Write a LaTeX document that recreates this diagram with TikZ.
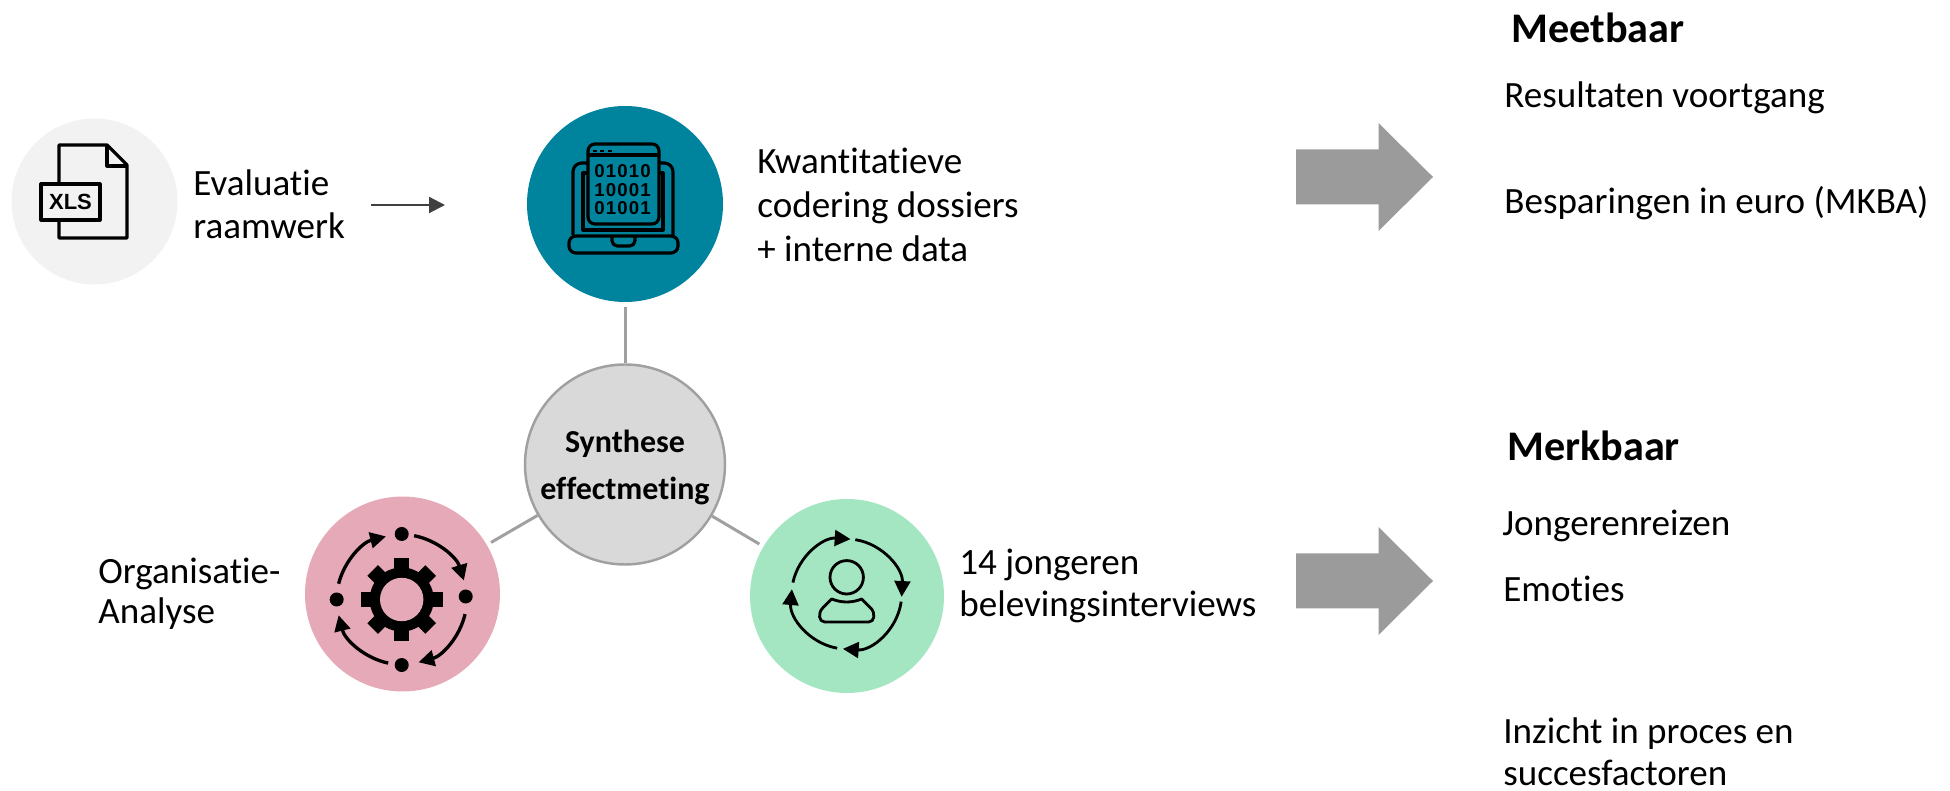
\documentclass[tikz,border=0pt]{standalone}
\usepackage{fontspec}
\usepackage{xcolor}
\setmainfont{Carlito}[Ligatures=NoCommon]
\newfontfamily\iconfont{Liberation Sans}
\newfontfamily\bitfont[LetterSpace=6]{Liberation Sans}
\usetikzlibrary{arrows.meta, positioning}

\definecolor{xlsgrey}{HTML}{F2F2F2}
\definecolor{codeteal}{HTML}{00839C}
\definecolor{orgpink}{HTML}{E6A9B7}
\definecolor{talkgreen}{HTML}{A5E6C2}
\definecolor{hubgrey}{HTML}{D9D9D9}
\definecolor{spokegrey}{HTML}{A0A0A0}
\definecolor{blockgrey}{HTML}{9B9B9B}
\definecolor{thinarrow}{HTML}{404040}

\tikzset{
  disc/.style={circle, inner sep=0pt, minimum size=#1},
  lbl/.style={inner sep=0pt, anchor=base west, align=left, font=\fontsize{21.1}{#1}\selectfont},
  lbl/.default=25,
  title/.style={inner sep=0pt, anchor=base west, font=\fontsize{24}{28}\selectfont\bfseries},
  spoke/.style={draw=spokegrey, line width=1.7pt, shorten >=2.6pt},
  block/.style={fill=blockgrey, draw=none},
  icon/.style={x=.02cm, y=.02cm, shift={(#1)}},
  ink/.style={draw=black, line width=1.8pt, line join=round},
  thinink/.style={draw=black, line width=1.6pt, line join=round},
  ringarrow/.style={draw=black, line width=#1, -{Triangle[length=9pt, width=9pt]}},
  bits/.style={inner sep=0pt, font=\fontsize{10.6}{12}\bitfont\bfseries}
}

\begin{document}
\begin{tikzpicture}[on grid]
  \useasboundingbox (0,0) rectangle (39,15.82);

  \node[disc=4cm, fill=hubgrey, draw=spokegrey, line width=1.4pt, align=center,
    font=\fontsize{18.2}{26.7}\selectfont\bfseries] (syn) at (12.5,6.53) {\rule{0pt}{16pt}Synthese\hspace{8pt}\\effectmeting};
  \node[disc=3.92cm, fill=codeteal, above=5.21cm of syn] (code) {};
  \node[disc=3.9cm, fill=orgpink, below left=2.59cm and 4.45cm of syn] (org) {};
  \node[disc=3.88cm, fill=talkgreen, below right=2.63cm and 4.44cm of syn] (talk) {};
  \node[disc=3.32cm, fill=xlsgrey, left=10.61cm of code, yshift=.05cm] (xls) {};

  \draw (syn) edge[spoke] (code);
  \draw (syn) edge[spoke] (org);
  \draw (syn) edge[spoke] (talk);

  \node[lbl=24.5, right=1.97cm of xls, yshift=-.75cm, anchor=base west] (evalabel) {Evaluatie\\raamwerk};
  \node[lbl=25.2, right=2.64cm of code, yshift=-1.16cm, anchor=base west] (codelabel) {Kwantitatieve\\codering dossiers\\+ interne data};
  \node[lbl=23.3, left=6.09cm of org, yshift=-.6cm, anchor=base west] (orglabel) {Organisatie-\\Analyse};
  \node[lbl=23.9, right=2.24cm of talk, yshift=-.42cm, anchor=base west] (talklabel) {14 jongeren\\belevingsinterviews};

  \coordinate (thinstart) at (7.42,11.72);
  \coordinate (thinend) at (8.9,11.72);
  \draw[thinarrow, line width=1.2pt, -{Triangle[length=9pt, width=9pt]}] (thinstart) -- (thinend);

  \foreach \y in {12.28,4.2}
    \fill[block] (25.92,\y+.55) -- (27.57,\y+.55) -- (27.57,\y+1.08) -- (28.66,\y) -- (27.57,\y-1.08) -- (27.57,\y-.55) -- (25.92,\y-.55) -- cycle;

  \node[title] (meet) at (30.22,14.97) {Meetbaar};
  \node[lbl, below=1.3cm of meet.base west, xshift=-.14cm, anchor=base west] (res) {Resultaten voortgang};
  \node[lbl, below=2.13cm of res.base west, anchor=base west] (bes) {Besparingen in euro (MKBA)};
  \node[title] (merk) at (30.14,6.61) {Merkbaar};
  \node[lbl, below=1.5cm of merk.base west, xshift=-.1cm, anchor=base west] (jong) {Jongerenreizen};
  \node[lbl, below=1.32cm of jong.base west, xshift=.02cm, anchor=base west] (emo) {Emoties};
  \node[lbl=24, below=3.68cm of emo.base west, anchor=base west] (inz) {Inzicht in proces en\\succesfactoren};

  \begin{scope}[icon=xls.center]
    \draw[ink] (-35.5,17.5) -- (-35.5,56.5) -- (12.5,56.5) -- (32.5,36.5) -- (32.5,-36.5) -- (-35.5,-36.5) -- (-35.5,-18.5);
    \draw[ink] (12.5,56.5) -- (12.5,35.5) -- (32.5,35.5);
    \draw[ink] (-53.5,17.5) rectangle (5.5,-18.5);
    \node[inner sep=0pt, font=\fontsize{12.5}{14}\iconfont\bfseries] (xlstext) at (-24,0) {XLS};
  \end{scope}

  \begin{scope}[icon=code.center]
    \draw[ink, rounded corners=4pt] (-37,-20) rectangle (34,60);
    \draw[ink] (-37,49) -- (34,49);
    \foreach \x in {-30,-23,-15} \draw[black, line width=1.4pt] (\x-2,53) -- (\x+2,53);
    \draw[ink, rounded corners=5pt] (-37,41) -- (-52,41) -- (-52,-31);
    \draw[ink, rounded corners=5pt] (34,41) -- (48,41) -- (48,-31);
    \draw[ink] (-37,31) -- (-42,31) -- (-42,-26) -- (38,-26) -- (38,31) -- (34,31);
    \draw[ink, rounded corners=4pt] (-56,-32) -- (53,-32) -- (53,-49) -- (-56,-49) -- cycle;
    \draw[ink, rounded corners=3pt] (-13,-32) -- (-13,-42) -- (10,-42) -- (10,-32);
    \node[bits] (row1) at (-2.5,33) {01010};
    \node[bits] (row2) at (-2.5,14) {10001};
    \node[bits] (row3) at (-2.5,-4) {01001};
  \end{scope}

  \begin{scope}[icon=org.center, shift={(-.8,-5.5)}]
    \foreach \a in {0,45,...,315} \fill[black, rotate=\a] (-7.5,25) rectangle (7.5,41);
    \fill[black] (0,0) circle[radius=32];
    \fill[orgpink] (0,0) circle[radius=21.7];
    \foreach \x/\y in {0/65.5,64/3,-65/0,0/-65.5} \fill[black] (\x,\y) circle[radius=7];
    \foreach \s/\e in {79/17,-13/-75,-102/-166,166/104}
      \draw[ringarrow=1.9pt] (\s:65) arc[start angle=\s, end angle=\e, radius=65];
  \end{scope}

  \begin{scope}[icon=talk.center, shift={(-.3,2)}]
    \foreach \s/\e in {168/86,81/-3,-8/-94,-100/-185}
      \draw[ringarrow=1.6pt] (\s:55) arc[start angle=\s, end angle=\e, radius=55];
    \draw[thinink] (0,16.7) circle[radius=16.7];
    \draw[thinink] (-15,-5) .. controls (-5,-9) and (5,-9) .. (15,-5) -- (24,-14)
      .. controls (29,-19) and (28,-28) .. (22,-28) -- (-22,-28)
      .. controls (-28,-28) and (-29,-19) .. (-24,-14) -- cycle;
  \end{scope}
\end{tikzpicture}
\end{document}
